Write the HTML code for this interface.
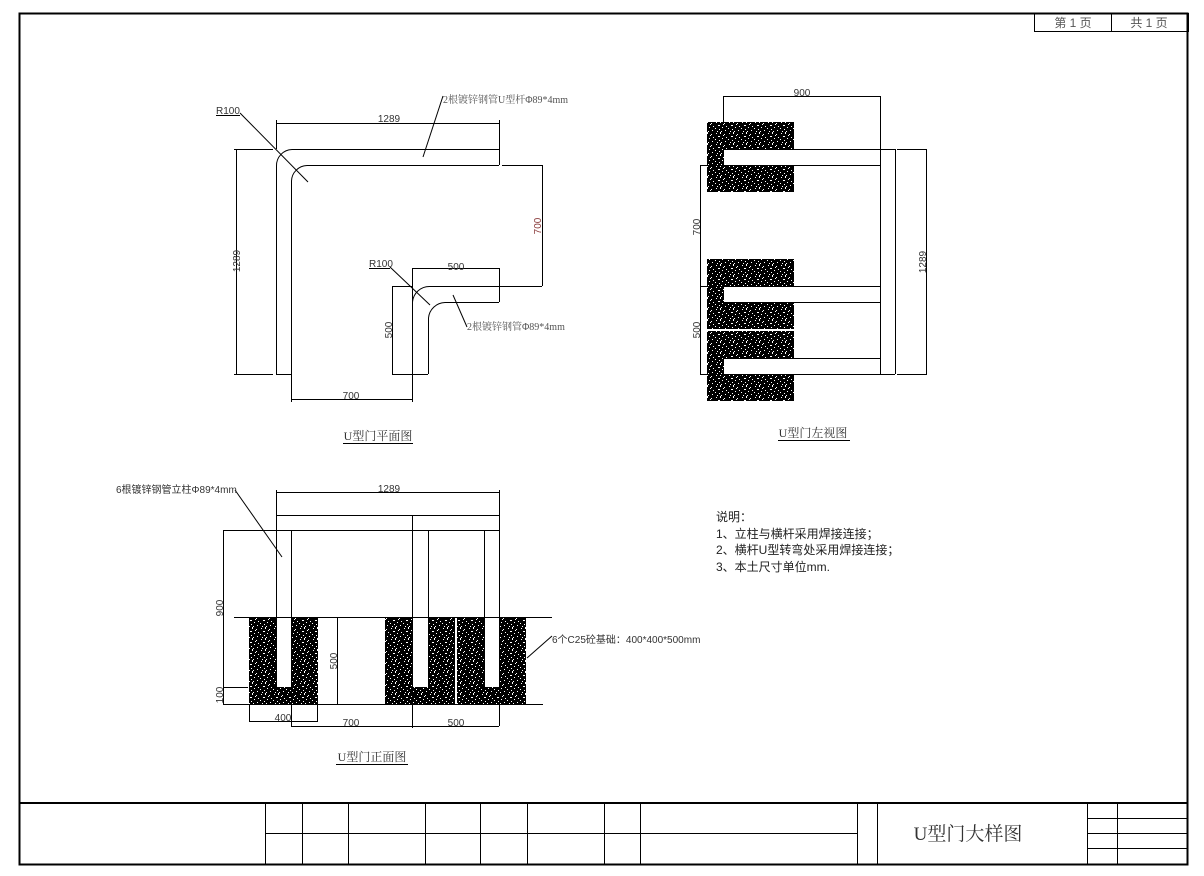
<!DOCTYPE html>
<html><head><meta charset="utf-8"><style>
html,body{margin:0;padding:0;background:#fff;}
svg{display:block;}
text{font-family:"Liberation Sans","Noto Sans CJK SC",sans-serif;}
.s{font-family:"Liberation Serif","Noto Serif CJK SC",serif;}
</style></head><body>
<svg width="1204" height="876" viewBox="0 0 1204 876" xmlns="http://www.w3.org/2000/svg">
<defs>
<pattern id="c" width="13" height="11" patternUnits="userSpaceOnUse">
<rect width="13" height="11" fill="#000"/>
<rect x="1" y="1" width="1" height="1" fill="#fff"/><rect x="5" y="0" width="1" height="2" fill="#fff"/>
<rect x="9" y="2" width="1" height="1" fill="#fff"/><rect x="3" y="4" width="2" height="1" fill="#fff"/>
<rect x="11" y="5" width="1" height="1" fill="#fff"/><rect x="7" y="6" width="1" height="1" fill="#fff"/>
<rect x="0" y="7" width="1" height="1" fill="#fff"/><rect x="4" y="8" width="1" height="1" fill="#fff"/>
<rect x="10" y="9" width="1" height="1" fill="#fff"/><rect x="6" y="10" width="1" height="1" fill="#fff"/>
<rect x="2" y="10" width="1" height="1" fill="#fff"/><rect x="8" y="3" width="1" height="1" fill="#fff"/>
</pattern>
</defs>
<g fill="none" stroke="#000" stroke-width="1">
<!-- frame -->
<rect x="19.5" y="13.5" width="1168" height="851" stroke-width="2"/>
<rect x="1034.5" y="13.5" width="154" height="18"/><line x1="1111.5" y1="13" x2="1111.5" y2="31"/>
<!-- title block -->
<line x1="19" y1="803" x2="1188" y2="803" stroke-width="2"/>
<line x1="265" y1="833.5" x2="640" y2="833.5"/>
<line x1="640" y1="833.5" x2="857" y2="833.5"/>
<g>
<line x1="265.5" y1="803" x2="265.5" y2="864"/><line x1="302.5" y1="803" x2="302.5" y2="864"/>
<line x1="348.5" y1="803" x2="348.5" y2="864"/><line x1="425.5" y1="803" x2="425.5" y2="864"/>
<line x1="480.5" y1="803" x2="480.5" y2="864"/><line x1="527.5" y1="803" x2="527.5" y2="864"/>
<line x1="604.5" y1="803" x2="604.5" y2="864"/><line x1="640.5" y1="803" x2="640.5" y2="864"/>
<line x1="857.5" y1="803" x2="857.5" y2="864"/><line x1="877.5" y1="803" x2="877.5" y2="864"/>
<line x1="1087.5" y1="803" x2="1087.5" y2="864"/><line x1="1117.5" y1="803" x2="1117.5" y2="864"/>
<line x1="1087" y1="818.5" x2="1188" y2="818.5"/><line x1="1087" y1="833.5" x2="1188" y2="833.5"/>
<line x1="1087" y1="848.5" x2="1188" y2="848.5"/>
</g>

<!-- PLAN VIEW -->
<line x1="276" y1="123.5" x2="499" y2="123.5"/>
<line x1="276.5" y1="120" x2="276.5" y2="149"/><line x1="499.5" y1="120" x2="499.5" y2="165"/>
<line x1="292" y1="149.5" x2="499" y2="149.5"/>
<line x1="307" y1="165.5" x2="499" y2="165.5"/>
<path d="M276.5 166 A16 16 0 0 1 292 149.5"/>
<path d="M291.5 181 A16 16 0 0 1 307 165.5"/>
<line x1="276.5" y1="166" x2="276.5" y2="374"/>
<line x1="291.5" y1="181" x2="291.5" y2="402"/>
<line x1="276" y1="374.5" x2="291" y2="374.5"/>
<line x1="236.5" y1="149" x2="236.5" y2="374"/>
<line x1="234" y1="149.5" x2="273" y2="149.5"/><line x1="234" y1="374.5" x2="273" y2="374.5"/>
<line x1="502" y1="165.5" x2="542" y2="165.5"/><line x1="542.5" y1="165" x2="542.5" y2="286"/>
<line x1="430" y1="286.5" x2="542" y2="286.5"/>
<line x1="412" y1="268.5" x2="499" y2="268.5"/><line x1="499.5" y1="268" x2="499.5" y2="302"/>
<line x1="445" y1="302.5" x2="499" y2="302.5"/>
<line x1="392" y1="286.5" x2="412" y2="286.5"/>
<path d="M412.5 302 A17 17 0 0 1 430 286.5"/>
<path d="M428.5 318 A17 17 0 0 1 445 302.5"/>
<line x1="412.5" y1="268" x2="412.5" y2="402"/>
<line x1="428.5" y1="318" x2="428.5" y2="374"/>
<line x1="392.5" y1="286" x2="392.5" y2="374"/>
<line x1="392" y1="374.5" x2="428" y2="374.5"/>
<line x1="291" y1="399.5" x2="412" y2="399.5"/>
<line x1="240" y1="113" x2="308" y2="182"/>
<line x1="216" y1="115.5" x2="240" y2="115.5"/>
<line x1="390" y1="267" x2="430" y2="305"/>
<line x1="369" y1="268.5" x2="390" y2="268.5"/>
<line x1="443" y1="96" x2="423" y2="157"/>
<line x1="467" y1="327" x2="453" y2="295"/>
<line x1="343" y1="443.5" x2="413" y2="443.5"/>

<!-- LEFT VIEW -->
<rect x="707" y="122" width="87" height="70" fill="url(#c)" stroke="none"/>
<rect x="707" y="259" width="87" height="70" fill="url(#c)" stroke="none"/>
<rect x="707" y="331" width="87" height="70" fill="url(#c)" stroke="none"/>
<rect x="724" y="149" width="70" height="16" fill="#fff" stroke="none"/>
<rect x="724" y="286" width="70" height="16" fill="#fff" stroke="none"/>
<rect x="724" y="358" width="70" height="16" fill="#fff" stroke="none"/>
<line x1="723" y1="96.5" x2="880" y2="96.5"/>
<line x1="723.5" y1="96" x2="723.5" y2="122"/><line x1="880.5" y1="96" x2="880.5" y2="374"/>
<line x1="895.5" y1="149" x2="895.5" y2="374"/>
<line x1="724" y1="149.5" x2="895" y2="149.5"/><line x1="700" y1="165.5" x2="880" y2="165.5"/>
<line x1="700" y1="286.5" x2="880" y2="286.5"/><line x1="724" y1="302.5" x2="880" y2="302.5"/>
<line x1="724" y1="358.5" x2="880" y2="358.5"/><line x1="700" y1="374.5" x2="895" y2="374.5"/>
<line x1="700.5" y1="165" x2="700.5" y2="374"/>
<line x1="897" y1="149.5" x2="927" y2="149.5"/><line x1="897" y1="374.5" x2="927" y2="374.5"/>
<line x1="926.5" y1="149" x2="926.5" y2="374"/>
<line x1="778" y1="440.5" x2="850" y2="440.5"/>

<!-- FRONT VIEW -->
<rect x="249" y="617" width="69" height="87" fill="url(#c)" stroke="none"/>
<rect x="385" y="617" width="70" height="87" fill="url(#c)" stroke="none"/>
<rect x="457" y="617" width="69" height="87" fill="url(#c)" stroke="none"/>
<rect x="277" y="617" width="14" height="70" fill="#fff" stroke="none"/>
<rect x="413" y="617" width="15" height="70" fill="#fff" stroke="none"/>
<rect x="485" y="617" width="14" height="70" fill="#fff" stroke="none"/>
<line x1="276" y1="492.5" x2="499" y2="492.5"/>
<line x1="276.5" y1="490" x2="276.5" y2="687"/><line x1="499.5" y1="490" x2="499.5" y2="726"/>
<line x1="276" y1="515.5" x2="499" y2="515.5"/><line x1="223" y1="530.5" x2="499" y2="530.5"/>
<line x1="291.5" y1="530" x2="291.5" y2="726"/>
<line x1="412.5" y1="515" x2="412.5" y2="728"/><line x1="428.5" y1="530" x2="428.5" y2="687"/>
<line x1="484.5" y1="530" x2="484.5" y2="687"/>
<line x1="234" y1="617.5" x2="552" y2="617.5"/>
<line x1="223.5" y1="530" x2="223.5" y2="704"/>
<line x1="223" y1="687.5" x2="248" y2="687.5"/><line x1="223" y1="704.5" x2="543" y2="704.5"/>
<line x1="318" y1="617.5" x2="338" y2="617.5"/><line x1="337.5" y1="617" x2="337.5" y2="704"/>
<line x1="249.5" y1="704" x2="249.5" y2="722"/><line x1="317.5" y1="704" x2="317.5" y2="722"/>
<line x1="249" y1="721.5" x2="317" y2="721.5"/>
<line x1="291" y1="726.5" x2="499" y2="726.5"/>
<line x1="235" y1="490" x2="282" y2="557"/>
<line x1="552" y1="636" x2="527" y2="658"/>
<line x1="336" y1="764.5" x2="408" y2="764.5"/>
</g>

<g font-size="10" fill="#333">
<text x="1073" y="27" text-anchor="middle" font-size="12" fill="#555">第 1 页</text>
<text x="1149" y="27" text-anchor="middle" font-size="12" fill="#555">共 1 页</text>
<text x="968" y="840" text-anchor="middle" font-size="19" class="s" fill="#333">U型门大样图</text>

<text x="216" y="114">R100</text>
<text x="389" y="122" text-anchor="middle">1289</text>
<text x="443" y="103" class="s" fill="#555">2根镀锌钢管U型杆Φ89*4mm</text>
<text x="0" y="0" transform="translate(240 261) rotate(-90)" text-anchor="middle">1289</text>
<text x="0" y="0" transform="translate(541 226) rotate(-90)" text-anchor="middle" fill="#8a3a3a">700</text>
<text x="369" y="267">R100</text>
<text x="456" y="270" text-anchor="middle">500</text>
<text x="467" y="330" class="s" fill="#555">2根镀锌钢管Φ89*4mm</text>
<text x="0" y="0" transform="translate(392 330) rotate(-90)" text-anchor="middle">500</text>
<text x="351" y="399" text-anchor="middle">700</text>
<text x="378" y="440" text-anchor="middle" font-size="12" class="s">U型门平面图</text>

<text x="802" y="96" text-anchor="middle">900</text>
<text x="0" y="0" transform="translate(700 227) rotate(-90)" text-anchor="middle">700</text>
<text x="0" y="0" transform="translate(700 330) rotate(-90)" text-anchor="middle">500</text>
<text x="0" y="0" transform="translate(926 262) rotate(-90)" text-anchor="middle">1289</text>
<text x="813" y="437" text-anchor="middle" font-size="12" class="s">U型门左视图</text>

<text x="116" y="493">6根镀锌钢管立柱Φ89*4mm</text>
<text x="389" y="492" text-anchor="middle">1289</text>
<text x="0" y="0" transform="translate(223 608) rotate(-90)" text-anchor="middle">900</text>
<text x="0" y="0" transform="translate(223 695) rotate(-90)" text-anchor="middle">100</text>
<text x="0" y="0" transform="translate(337 661) rotate(-90)" text-anchor="middle">500</text>
<text x="283" y="721" text-anchor="middle">400</text>
<text x="351" y="726" text-anchor="middle">700</text>
<text x="456" y="726" text-anchor="middle">500</text>
<text x="552" y="643">6个C25砼基础：400*400*500mm</text>
<text x="372" y="761" text-anchor="middle" font-size="12" class="s">U型门正面图</text>

<g font-size="12" class="s" fill="#222">
<text x="716" y="521">说明：</text>
<text x="716" y="538">1、立柱与横杆采用焊接连接；</text>
<text x="716" y="554">2、横杆U型转弯处采用焊接连接；</text>
<text x="716" y="571">3、本土尺寸单位mm.</text>
</g>
</g>
</svg>
</body></html>
